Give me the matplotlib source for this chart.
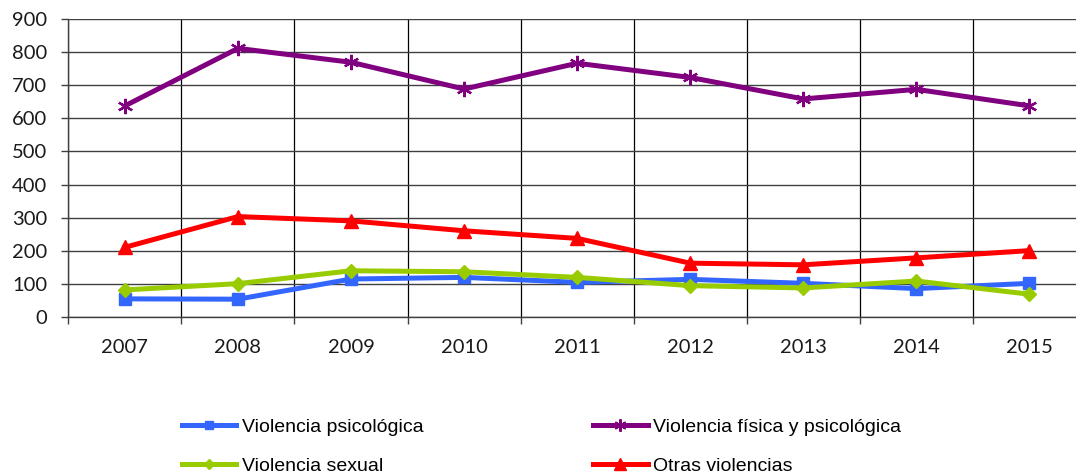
import matplotlib
matplotlib.use("Agg")
import matplotlib.pyplot as plt
from matplotlib.ticker import FixedLocator, NullFormatter

years = ["2007", "2008", "2009", "2010", "2011", "2012", "2013", "2014", "2015"]
psicologica = [54, 53, 114, 119, 104, 113, 101, 85, 101]
fisica_psico = [638, 812, 770, 689, 767, 724, 659, 688, 638]
sexual = [81, 100, 139, 136, 119, 94, 87, 108, 68]
otras = [210, 303, 290, 260, 237, 162, 157, 178, 200]

labels = ["Violencia psicológica", "Violencia física y psicológica",
          "Violencia sexual", "Otras violencias"]
yticks = [0, 100, 200, 300, 400, 500, 600, 700, 800, 900]

W, H = 1076, 476
fig = plt.figure(figsize=(W / 100, H / 100), dpi=100)
ax = fig.add_axes([68.3 / W, 1 - 316.7 / H, (1086 - 68.3) / W, (316.7 - 19.3) / H])

x = list(range(len(years)))
lw = 3.6
h1, = ax.plot(x, psicologica, color="#3366FF", lw=lw, marker="s", ms=8,
              label=labels[0], zorder=3)
h2, = ax.plot(x, fisica_psico, color="#800080", lw=lw, marker=(6, 2, 0), ms=11,
              mew=1.6, label=labels[1], zorder=3)
h3, = ax.plot(x, sexual, color="#99CC00", lw=lw, marker="D", ms=7,
              label=labels[2], zorder=3)
h4, = ax.plot(x, otras, color="#FF0000", lw=lw, marker="^", ms=10,
              label=labels[3], zorder=3)

ax.set_xlim(-0.5, len(years) - 0.5)
ax.set_ylim(0, 900)

# y axis
ax.set_yticks(yticks)
ax.set_yticklabels([str(v) for v in yticks])
ax.tick_params(axis="y", direction="out", length=5, width=1.0, color="#404040",
               pad=10, labelsize=14.5, labelcolor="#1a1a1a")

# x axis: ticks at category boundaries, labels at centres
bounds = [i - 0.5 for i in range(len(years) + 1)]
ax.xaxis.set_major_locator(FixedLocator(bounds))
ax.xaxis.set_major_formatter(NullFormatter())
ax.xaxis.set_minor_locator(FixedLocator(x))
ax.set_xticklabels(years, minor=True)
ax.tick_params(axis="x", which="major", direction="out", length=5, width=1.0,
               color="#404040")
ax.tick_params(axis="x", which="minor", length=0, pad=16, labelsize=14.5,
               labelcolor="#1a1a1a")

for lab in ax.get_xticklabels(minor=True) + ax.get_yticklabels():
    lab.set_fontfamily("Lato")

ax.grid(axis="y", color="#404040", lw=1.0, zorder=0)
ax.grid(axis="x", which="major", color="black", lw=0.9, zorder=0)
ax.set_axisbelow(True)

for s in ["top", "right"]:
    ax.spines[s].set_visible(False)
ax.spines["left"].set_color("#404040")
ax.spines["bottom"].set_color("#404040")
ax.spines["left"].set_linewidth(1.0)
ax.spines["bottom"].set_linewidth(1.0)

fig.legend(handles=[h1, h3, h2, h4], labels=[labels[0], labels[2], labels[1], labels[3]],
           ncol=2, loc="upper left", bbox_to_anchor=(182 / W, 1 - 418 / H),
           frameon=False, borderpad=0, borderaxespad=0,
           handlelength=2.8, handletextpad=0.3, columnspacing=8.7,
           labelspacing=1.12, markerscale=0.8,
           prop={"family": "Liberation Sans", "size": 14})

fig.savefig("out.png", dpi=100)
